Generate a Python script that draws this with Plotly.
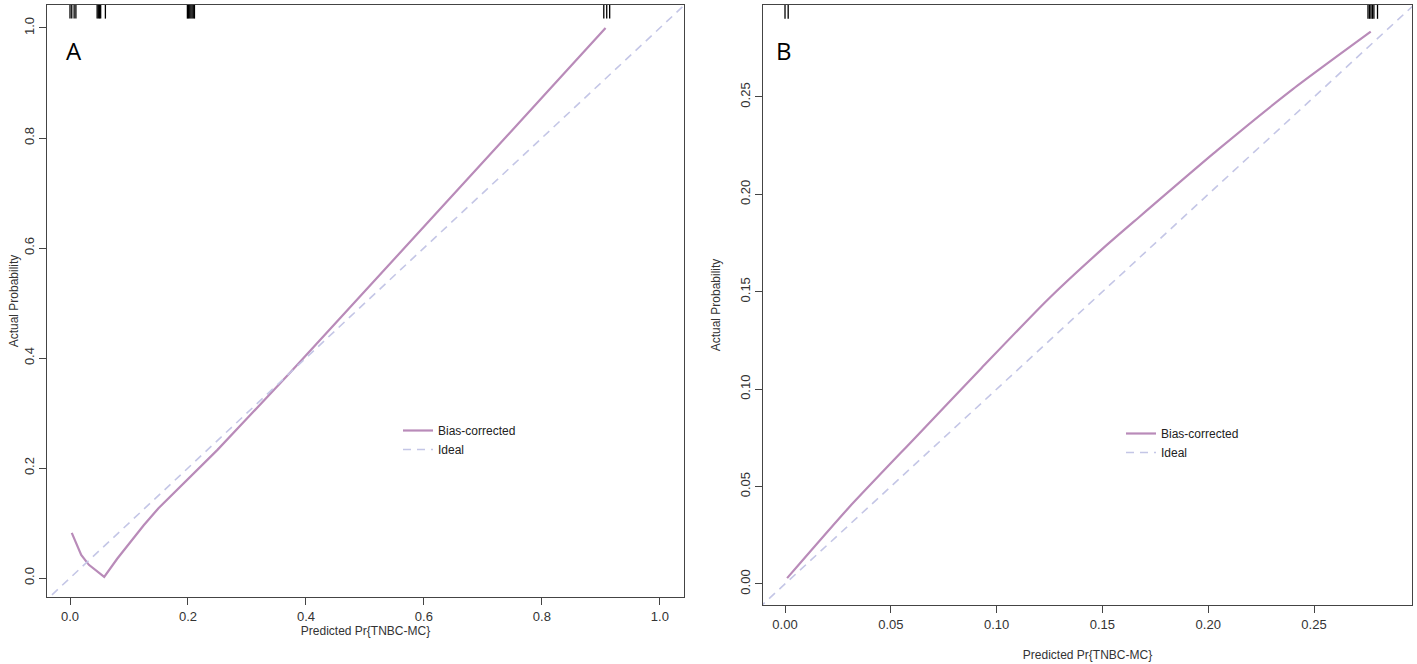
import plotly.graph_objects as go

# ---------------- data ----------------
# Panel A: calibration curve (bias-corrected)
a_pred = [0.003, 0.019, 0.032, 0.058, 0.080, 0.100, 0.125, 0.150, 0.200, 0.250, 0.300, 0.373,
          0.450, 0.500, 0.600, 0.700, 0.800, 0.908]
a_actual = [0.082, 0.042, 0.024, 0.002, 0.035, 0.063, 0.096, 0.127, 0.180, 0.233, 0.290, 0.373,
            0.463, 0.522, 0.639, 0.756, 0.873, 1.000]
# Panel A: rug of predicted probabilities (top)
a_rug = [0.000, 0.003, 0.007, 0.010,
         0.046, 0.048, 0.050, 0.052, 0.060,
         0.199, 0.201, 0.203, 0.205, 0.207, 0.209, 0.211,
         0.905, 0.910, 0.915]

# Panel B
b_pred = [0.001, 0.030, 0.062, 0.093, 0.124, 0.150, 0.167, 0.2045, 0.240, 0.2768]
b_actual = [0.003, 0.039, 0.0756, 0.111, 0.1458, 0.172, 0.188, 0.2228, 0.254, 0.2835]
b_rug = [0.0000, 0.0015,
         0.2755, 0.2762, 0.2769, 0.2776, 0.2783, 0.2800]

ideal_a = [-0.1, 1.2]
ideal_b = [-0.1, 0.4]

a_ticks = [0.0, 0.2, 0.4, 0.6, 0.8, 1.0]
b_ticks = [0.00, 0.05, 0.10, 0.15, 0.20, 0.25]

# ---------------- style ----------------
W, H = 1417, 664
CURVE = "#B98BB9"
IDEAL = "#C4C6E6"
AXC = "#444444"
FONT = "Liberation Sans Narrow, Liberation Sans, Arial, sans-serif"


def px(p):
    return p / W


def py(p):
    return 1 - p / H


fig = go.Figure()

fig.add_trace(go.Scatter(x=a_pred, y=a_actual, mode="lines", name="Bias-corrected",
                         line=dict(color=CURVE, width=2.2), xaxis="x", yaxis="y",
                         legend="legend"))
fig.add_trace(go.Scatter(x=ideal_a, y=ideal_a, mode="lines", name="Ideal",
                         line=dict(color=IDEAL, width=1.6, dash="8px,6px"), xaxis="x", yaxis="y",
                         legend="legend"))
fig.add_trace(go.Scatter(x=b_pred, y=b_actual, mode="lines", name="Bias-corrected",
                         line=dict(color=CURVE, width=2.2, shape="spline", smoothing=0.6),
                         xaxis="x2", yaxis="y2", legend="legend2"))
fig.add_trace(go.Scatter(x=ideal_b, y=ideal_b, mode="lines", name="Ideal",
                         line=dict(color=IDEAL, width=1.6, dash="8px,6px"), xaxis="x2", yaxis="y2",
                         legend="legend2"))

# rug marks at top of each panel
for v in a_rug:
    fig.add_shape(type="line", xref="x", yref="y domain", x0=v, x1=v, y0=1.0, y1=0.977,
                  line=dict(color="black", width=1.3))
for v in b_rug:
    fig.add_shape(type="line", xref="x2", yref="y2 domain", x0=v, x1=v, y0=1.0, y1=0.977,
                  line=dict(color="black", width=1.3))

axis_common = dict(showline=True, linecolor=AXC, linewidth=1, mirror=True,
                   ticks="outside", ticklen=7, tickcolor=AXC, tickwidth=1,
                   showgrid=False, zeroline=False,
                   tickfont=dict(family=FONT, size=13, color="#333333"),
                   title_font=dict(family=FONT, size=12, color="#333333"))

fig.update_layout(
    width=W, height=H,
    margin=dict(l=0, r=0, t=0, b=0),
    paper_bgcolor="white", plot_bgcolor="white",
    xaxis=dict(domain=[px(47), px(684)], range=[-0.039, 1.041], anchor="y",
               tickvals=a_ticks, ticktext=[f"{t:.1f}" for t in a_ticks],
               title=dict(text="Predicted Pr{TNBC-MC}", standoff=4), **axis_common),
    yaxis=dict(domain=[py(597), py(5)], range=[-0.0345, 1.0418], anchor="x",
               tickvals=a_ticks, ticktext=[f"{t:.1f}" for t in a_ticks], tickangle=-90,
               title=dict(text="Actual Probability", standoff=0), **axis_common),
    xaxis2=dict(domain=[px(763), px(1412)], range=[-0.0104, 0.2963], anchor="y2",
                tickvals=b_ticks, ticktext=[f"{t:.2f}" for t in b_ticks],
                title=dict(text="Predicted Pr{TNBC-MC}", standoff=20), **axis_common),
    yaxis2=dict(domain=[py(605), py(5)], range=[-0.0108, 0.2972], anchor="x2",
                tickvals=b_ticks, ticktext=[f"{t:.2f}" for t in b_ticks], tickangle=-90,
                title=dict(text="Actual Probability", standoff=14), **axis_common),
    legend=dict(x=px(398), y=py(416), xanchor="left", yanchor="top",
                bgcolor="rgba(0,0,0,0)", itemwidth=30, tracegroupgap=0,
                font=dict(family=FONT, size=12, color="#222222")),
    legend2=dict(x=px(1121), y=py(419), xanchor="left", yanchor="top",
                 bgcolor="rgba(0,0,0,0)", itemwidth=30, tracegroupgap=0,
                 font=dict(family=FONT, size=12, color="#222222")),
    annotations=[
        dict(text="A", xref="paper", yref="paper", x=px(64), y=py(32),
             xanchor="left", yanchor="top", showarrow=False,
             font=dict(family="Open Sans, sans-serif", size=24, color="black")),
        dict(text="B", xref="paper", yref="paper", x=px(774), y=py(32),
             xanchor="left", yanchor="top", showarrow=False,
             font=dict(family="Open Sans, sans-serif", size=24, color="black")),
    ],
)

# remove the browser's default 8px page margin so the figure fills the window
fig.write_html("out.html", config={"displayModeBar": False},
               post_script="document.body.style.margin='0';")
